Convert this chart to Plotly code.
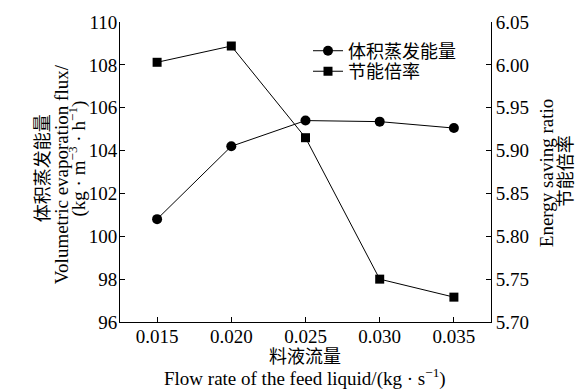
import plotly.graph_objects as go

# Feed liquid flow rate (kg/s)
flow_rate = [0.015, 0.020, 0.025, 0.030, 0.035]
# Volumetric evaporation flux (kg·m^-3·h^-1), left axis
evap_flux = [100.8, 104.2, 105.4, 105.35, 105.05]
# Energy saving ratio, right axis
saving_ratio = [6.003, 6.022, 5.915, 5.750, 5.729]

x_ticks = [0.015, 0.020, 0.025, 0.030, 0.035]
x_tick_text = ["0.015", "0.020", "0.025", "0.030", "0.035"]
y1_ticks = [96, 98, 100, 102, 104, 106, 108, 110]
y2_ticks = [5.70, 5.75, 5.80, 5.85, 5.90, 5.95, 6.00, 6.05]
y2_tick_text = ["5.70", "5.75", "5.80", "5.85", "5.90", "5.95", "6.00", "6.05"]

FONT = "Liberation Serif, Times New Roman, Noto Sans CJK SC, serif"

# plot-area geometry in pixels (used for placing titles and legends)
L, R, T, B = 120, 491, 15.3, 322.3


def px_x(px):
    return (px - L) / (R - L)


def px_y(py):
    return (B - py) / (B - T)


fig = go.Figure()
fig.add_trace(go.Scatter(
    x=flow_rate, y=evap_flux, name="体积蒸发能量", mode="lines+markers",
    line=dict(color="black", width=1),
    marker=dict(symbol="circle", size=10, color="black"),
    yaxis="y", legend="legend",
))
fig.add_trace(go.Scatter(
    x=flow_rate, y=saving_ratio, name="节能倍率", mode="lines+markers",
    line=dict(color="black", width=1),
    marker=dict(symbol="square", size=9, color="black"),
    yaxis="y2", legend="legend2",
))

axis_common = dict(
    showline=True, linecolor="black", linewidth=1,
    ticks="inside", ticklen=5, tickcolor="black", tickwidth=1,
    showgrid=False, zeroline=False,
    tickfont=dict(family=FONT, size=19, color="black"),
)

legend_common = dict(xanchor="left", yanchor="middle", bgcolor="rgba(0,0,0,0)",
                     font=dict(family=FONT, size=18, color="black"), itemwidth=30)

fig.update_layout(
    width=585, height=389,
    margin=dict(l=L, r=585 - R, t=T, b=389 - B),
    paper_bgcolor="white", plot_bgcolor="white",
    font=dict(family=FONT, color="black"),
    xaxis=dict(range=[0.0125, 0.0375], tickvals=x_ticks, ticktext=x_tick_text,
               ticklabelstandoff=-3, **axis_common),
    yaxis=dict(range=[96, 110], tickvals=y1_ticks, ticklabelstandoff=-2, **axis_common),
    yaxis2=dict(range=[5.70, 6.05], tickvals=y2_ticks, ticktext=y2_tick_text,
                overlaying="y", side="right", **axis_common),
    legend=dict(x=px_x(308), y=px_y(45), **legend_common),
    legend2=dict(x=px_x(308), y=px_y(66), **legend_common),
    showlegend=True,
)

annos = [
    ("体积蒸发能量", 43, 165, -90, 18),
    ("Volumetric evaporation flux/", 61, 171, -90, 19),
    ("(kg · m<sup>−3</sup> · h<sup>−1</sup>)", 78, 155, -90, 19),
    ("Energy saving ratio", 546, 170, -90, 19),
    ("节能倍率", 566, 168, -90, 18),
    ("料液流量", 305, 358, 0, 18),
    ("Flow rate of the feed liquid/(kg · s<sup>−1</sup>)", 305, 379, 0, 19),
]
for text, ax, ay, ang, sz in annos:
    fig.add_annotation(
        text=text, xref="paper", yref="paper", x=px_x(ax), y=px_y(ay),
        xanchor="center", yanchor="middle", textangle=ang, showarrow=False,
        font=dict(family=FONT, size=sz, color="black"),
    )

fig.write_html("out.html")
